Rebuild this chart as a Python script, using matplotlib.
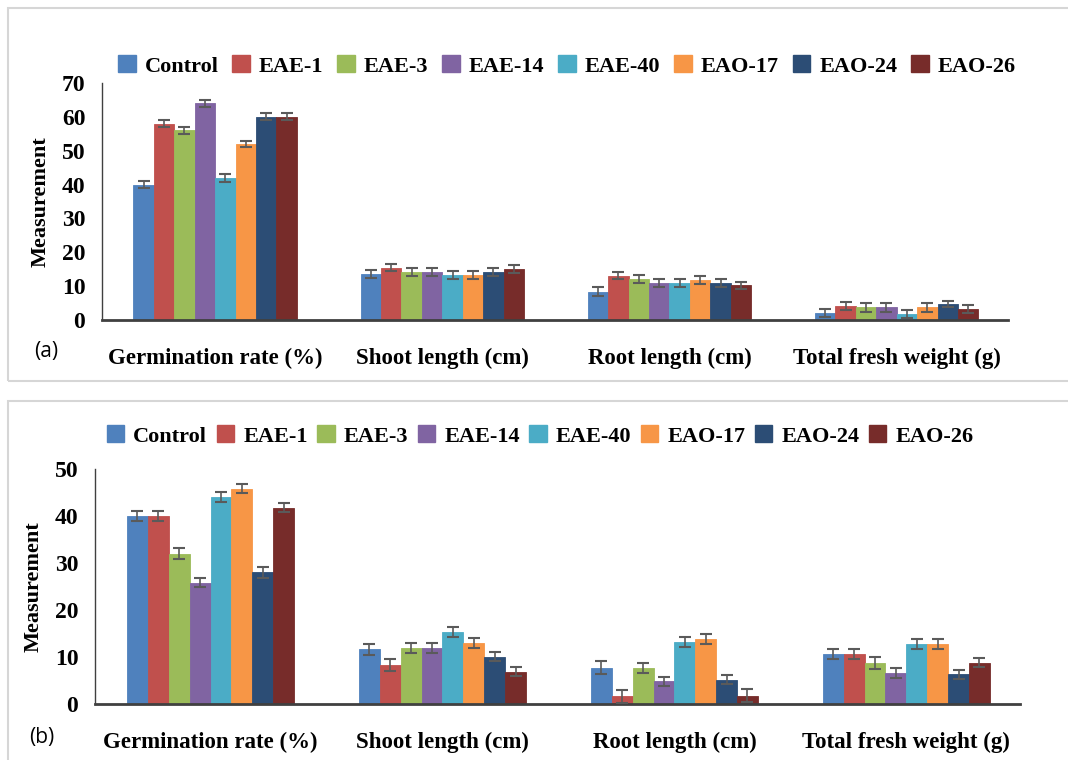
import matplotlib
matplotlib.use("Agg")
import matplotlib.pyplot as plt
from matplotlib.patches import Rectangle, Patch
import numpy as np

categories = ["Germination rate (%)", "Shoot length (cm)", "Root length (cm)", "Total fresh weight (g)"]
series = ["Control", "EAE-1", "EAE-3", "EAE-14", "EAE-40", "EAO-17", "EAO-24", "EAO-26"]
colors = ["#4F81BD", "#C0504D", "#9BBB59", "#8064A2", "#4BACC6", "#F79646", "#2C4D75", "#772C2A"]

# Panel (a): rows = series, columns = categories
vals_a = {
    "Control": [40, 13.5, 8.3, 2.1],
    "EAE-1":   [58, 15.5, 13.1, 4.2],
    "EAE-3":   [56, 14.2, 12.2, 3.7],
    "EAE-14":  [64, 14.2, 10.8, 3.7],
    "EAE-40":  [42, 13.2, 10.8, 1.8],
    "EAO-17":  [52, 13.2, 11.7, 3.7],
    "EAO-24":  [60, 14.2, 10.8, 4.7],
    "EAO-26":  [60, 15.0, 10.3, 3.2],
}
err_a = {
    "Control": [1.1, 1.2, 1.3, 1.1],
    "EAE-1":   [1.1, 1.1, 1.1, 1.2],
    "EAE-3":   [1.1, 1.2, 1.2, 1.2],
    "EAE-14":  [1.0, 1.1, 1.2, 1.2],
    "EAE-40":  [1.1, 1.2, 1.2, 1.2],
    "EAO-17":  [0.9, 1.2, 1.2, 1.2],
    "EAO-24":  [1.0, 1.2, 1.2, 1.0],
    "EAO-26":  [1.0, 1.1, 1.0, 1.2],
}
# Panel (b)
vals_b = {
    "Control": [40, 11.6, 7.7, 10.6],
    "EAE-1":   [40, 8.3, 1.6, 10.6],
    "EAE-3":   [32, 11.9, 7.7, 8.8],
    "EAE-14":  [25.8, 11.9, 4.8, 6.6],
    "EAE-40":  [44, 15.3, 13.2, 12.8],
    "EAO-17":  [45.8, 13.0, 13.9, 12.8],
    "EAO-24":  [28, 10.1, 5.2, 6.3],
    "EAO-26":  [41.8, 6.9, 1.8, 8.8],
}
err_b = {
    "Control": [1.1, 1.1, 1.4, 1.0],
    "EAE-1":   [1.1, 1.3, 1.4, 1.1],
    "EAE-3":   [1.1, 1.0, 1.0, 1.3],
    "EAE-14":  [1.0, 1.0, 1.0, 1.0],
    "EAE-40":  [1.1, 1.1, 1.0, 1.1],
    "EAO-17":  [1.0, 1.0, 1.1, 1.0],
    "EAO-24":  [1.1, 1.0, 1.0, 1.0],
    "EAO-26":  [0.9, 1.0, 1.4, 1.0],
}
yticks_a = [0, 10, 20, 30, 40, 50, 60, 70]
yticks_b = [0, 10, 20, 30, 40, 50]

W, H = 1068, 760
fig = plt.figure(figsize=(W / 100, H / 100), dpi=100)
fig.patch.set_facecolor("white")
serif = ["Liberation Serif", "DejaVu Serif"]

def px_axes(left, right, top, bottom):
    return fig.add_axes([left / W, 1 - bottom / H, (right - left) / W, (bottom - top) / H])

# panel frames
for (y0, y1) in [(8, 381), (401, 775)]:
    fig.patches.append(Rectangle((8 / W, 1 - y1 / H), (1075 - 8) / W, (y1 - y0) / H,
                                 transform=fig.transFigure, fill=False,
                                 edgecolor="#D6D6D6", linewidth=1.5))

def draw(ax, vals, errs, ymax, yticks):
    n = len(series)
    bw = 0.09
    x = np.arange(len(categories))
    for i, s in enumerate(series):
        pos = x + (i - (n - 1) / 2) * bw
        ax.bar(pos, vals[s], width=bw, color=colors[i], edgecolor=colors[i],
               linewidth=0.6, zorder=2)
        ax.errorbar(pos, vals[s], yerr=errs[s], fmt="none", ecolor="#5A5A5A",
                    elinewidth=1.2, capsize=4, capthick=1.5, zorder=3)
    ax.set_xlim(-0.498, 3.49)
    ax.set_ylim(0, ymax)
    ax.set_yticks(yticks)
    ax.set_xticks(x)
    ax.set_xticklabels(categories)
    for sp in ["top", "right"]:
        ax.spines[sp].set_visible(False)
    ax.spines["left"].set_color("#404040")
    ax.spines["left"].set_linewidth(1.0)
    ax.spines["bottom"].set_color("#404040")
    ax.spines["bottom"].set_linewidth(2.0)
    ax.tick_params(axis="x", length=0, pad=20)
    ax.tick_params(axis="y", length=0, pad=12)
    for lab in ax.get_xticklabels():
        lab.set_fontfamily(serif)
        lab.set_fontweight("bold")
        lab.set_fontsize(16.5)
    for lab in ax.get_yticklabels():
        lab.set_fontfamily(serif)
        lab.set_fontweight("bold")
        lab.set_fontsize(17)
    ax.set_ylabel("Measurement", fontfamily=serif, fontweight="bold", fontsize=16, labelpad=8)

ax_a = px_axes(102, 1008, 83, 320)
draw(ax_a, vals_a, err_a, 70, yticks_a)
ax_b = px_axes(95, 1020, 469, 704)
draw(ax_b, vals_b, err_b, 50, yticks_b)

handles = [Patch(facecolor=c, edgecolor=c) for c in colors]
fig.legend(handles, series, loc="center", bbox_to_anchor=(567 / W, 1 - 66 / H), ncol=8,
           frameon=False, prop={"family": serif, "weight": "bold", "size": 16},
           handlelength=0.8, handleheight=0.8, handletextpad=0.4, columnspacing=0.62)
fig.legend(handles, series, loc="center", bbox_to_anchor=(540 / W, 1 - 436 / H), ncol=8,
           frameon=False, prop={"family": serif, "weight": "bold", "size": 16},
           handlelength=0.8, handleheight=0.8, handletextpad=0.4, columnspacing=0.42)

fig.text(46 / W, 1 - 352 / H, "(a)", fontfamily=["Open Sans", "DejaVu Sans"], fontsize=15,
         ha="center", va="center")
fig.text(42 / W, 1 - 737 / H, "(b)", fontfamily=["Open Sans", "DejaVu Sans"], fontsize=15,
         ha="center", va="center")

fig.savefig("out.png", dpi=100, facecolor="white")
